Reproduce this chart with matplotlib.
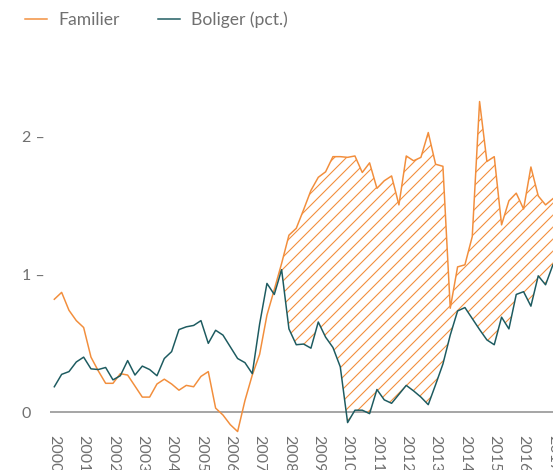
import numpy as np
import matplotlib.pyplot as plt

plt.rcParams['font.family'] = ['Lato', 'DejaVu Sans']
plt.rcParams['hatch.linewidth'] = 1.1

# quarterly values, 2000K1 .. 2017K1
familier = [0.82, 0.87, 0.74, 0.665, 0.615, 0.40, 0.30, 0.21, 0.21, 0.28,
            0.27, 0.19, 0.11, 0.11, 0.205, 0.24, 0.205, 0.16, 0.195, 0.185,
            0.26, 0.295, 0.03, -0.02, -0.09, -0.14, 0.085, 0.27, 0.42, 0.705,
            0.89, 1.08, 1.285, 1.335, 1.47, 1.61, 1.705, 1.745, 1.855, 1.855,
            1.85, 1.86, 1.74, 1.81, 1.625, 1.68, 1.715, 1.505, 1.86, 1.825,
            1.85, 2.03, 1.80, 1.785, 0.755, 1.055, 1.07, 1.275, 2.255, 1.82,
            1.855, 1.36, 1.535, 1.59, 1.475, 1.78, 1.57, 1.505, 1.55]
boliger = [0.185, 0.275, 0.295, 0.365, 0.40, 0.315, 0.31, 0.325, 0.235, 0.265,
           0.375, 0.27, 0.335, 0.31, 0.265, 0.39, 0.44, 0.60, 0.62, 0.63,
           0.665, 0.50, 0.595, 0.56, 0.475, 0.39, 0.36, 0.28, 0.64, 0.935,
           0.855, 1.035, 0.605, 0.49, 0.495, 0.465, 0.655, 0.545, 0.47, 0.33,
           -0.075, 0.015, 0.015, -0.01, 0.165, 0.09, 0.065, 0.13, 0.195, 0.155,
           0.11, 0.055, 0.20, 0.35, 0.56, 0.735, 0.76, 0.68, 0.60, 0.525,
           0.49, 0.69, 0.605, 0.855, 0.875, 0.77, 0.99, 0.925, 1.07]
years = list(range(2000, 2018))
yticks = [0, 1, 2]
ylabels = ['0', '1 –', '2 –']

orange = '#F28E3C'
teal = '#1D5B60'
grey = '#707070'

t = 2000 + np.arange(len(familier)) / 4
fam = np.array(familier)
bol = np.array(boliger)

fig = plt.figure(figsize=(553 / 72, 470 / 72), dpi=72)
ax = fig.add_axes([50 / 553, (470 - 434.3) / 470, 520.5 / 553, (434.3 - 54) / 470])

ax.axhline(0, color='#8a8a8a', lw=1.5, zorder=1)
ax.plot(t, fam, color=orange, lw=1.5, label='Familier', zorder=3)
ax.plot(t, bol, color=teal, lw=1.5, label='Boliger (pct.)', zorder=3)

# hatched gap from 2007 onwards
s = 29
ax.fill_between(t[s:], fam[s:], bol[s:], where=fam[s:] >= bol[s:], interpolate=True,
                facecolor='none', edgecolor=orange, hatch='//', linewidth=0, zorder=2)

ax.set_xlim(1999.853, 2017.6)
ax.set_ylim(-0.16, 2.6)

ax.set_xticks(years)
ax.set_xticklabels([str(y) for y in years])
ax.tick_params(axis='x', length=0, pad=1, labelrotation=-90, labelsize=16, labelcolor=grey)

ax.set_yticks(yticks)
ax.set_yticklabels(ylabels)
ax.tick_params(axis='y', length=0, pad=28, labelsize=16, labelcolor=grey)
for lab in ax.get_yticklabels():
    lab.set_horizontalalignment('left')

for sp in ax.spines.values():
    sp.set_visible(False)

fig.legend(loc='center left', bbox_to_anchor=(25 / 553, 1 - 20 / 470), ncol=2,
           frameon=False, fontsize=17.5, handlelength=22 / 17.5, handletextpad=11 / 17.5,
           columnspacing=2.2, borderpad=0, borderaxespad=0, labelcolor=grey)

fig.savefig('out.png', dpi=72)
